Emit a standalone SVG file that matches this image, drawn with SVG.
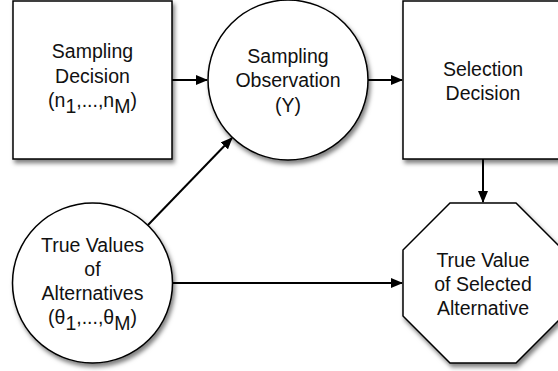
<svg xmlns="http://www.w3.org/2000/svg" width="558" height="371" viewBox="0 0 558 371">
<style>
.n{fill:#fff;stroke:#000;stroke-width:1.5;filter:url(#sh)}
.t{font-family:"Liberation Sans",Arial,sans-serif;font-size:19.5px;fill:#111;text-anchor:middle}
.e{stroke:#000;stroke-width:2;fill:none;marker-end:url(#ah)}
</style>
<defs>
<filter id="sh" x="-20%" y="-20%" width="140%" height="140%">
<feDropShadow dx="2" dy="3.5" stdDeviation="2" flood-color="#000" flood-opacity="0.5"/>
</filter>
<marker id="ah" markerWidth="12" markerHeight="10" refX="11" refY="5" orient="auto" markerUnits="userSpaceOnUse">
<path d="M0,0 L12,5 L0,10 Z" fill="#000"/>
</marker>
</defs>
<rect width="558" height="371" fill="#fff"/>
<g id="connectors">
<line class="e" x1="172" y1="80" x2="207" y2="80"/>
<line class="e" x1="368" y1="80" x2="402" y2="80"/>
<line class="e" x1="483" y1="159" x2="483" y2="202"/>
<line class="e" x1="148" y1="225" x2="232" y2="138"/>
<line class="e" x1="172" y1="283" x2="402" y2="283"/>
</g>
<g id="sampling-decision">
<rect class="n" x="13" y="1" width="159" height="158"/>
<text class="t" x="92.5" y="58">Sampling</text>
<text class="t" x="92.5" y="83">Decision</text>
<text class="t" x="92.5" y="107">(n<tspan dy="6">1</tspan><tspan dy="-6">,...,n</tspan><tspan dy="6">M</tspan><tspan dy="-6">)</tspan></text>
</g>
<g id="sampling-observation">
<circle class="n" cx="288" cy="80" r="80"/>
<text class="t" x="288" y="63">Sampling</text>
<text class="t" x="288" y="87">Observation</text>
<text class="t" x="288" y="112">(Y)</text>
</g>
<g id="selection-decision">
<rect class="n" x="403" y="1" width="160" height="158"/>
<text class="t" x="483" y="76">Selection</text>
<text class="t" x="483" y="100">Decision</text>
</g>
<g id="true-values">
<circle class="n" cx="92.5" cy="283" r="80"/>
<text class="t" x="92.5" y="252">True Values</text>
<text class="t" x="92.5" y="276">of</text>
<text class="t" x="92.5" y="300">Alternatives</text>
<text class="t" x="92.5" y="324">(θ<tspan dy="6">1</tspan><tspan dy="-6">,...,θ</tspan><tspan dy="6">M</tspan><tspan dy="-6">)</tspan></text>
</g>
<g id="true-value-selected">
<polygon class="n" points="450,203 516,203 563,250 563,316 516,363 450,363 403,316 403,250"/>
<text class="t" x="483" y="267">True Value</text>
<text class="t" x="483" y="291">of Selected</text>
<text class="t" x="483" y="315">Alternative</text>
</g>
</svg>
